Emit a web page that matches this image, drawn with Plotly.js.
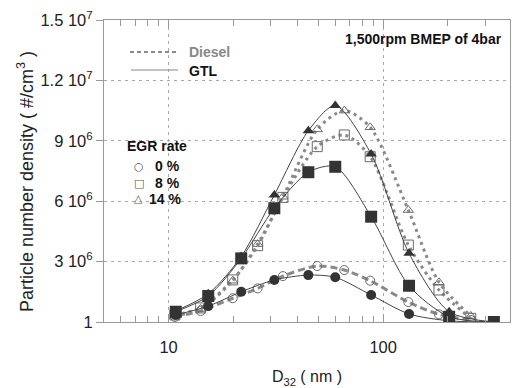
<!DOCTYPE html>
<html>
<head>
<meta charset="utf-8">
<script src="https://cdn.plot.ly/plotly-3.0.1.min.js"></script>
<style>html,body{margin:0;padding:0;background:#fff;}#chart{width:512px;height:388px;}</style>
</head>
<body>
<div id="chart"></div>
<script>
// Diameters (nm)
const dieselD = [10.7, 14.1, 19.9, 26.0, 34.1, 49.3, 65.9, 87.0, 131, 182, 256];
const gtlD    = [10.8, 15.3, 21.8, 31.1, 44.8, 59.8, 87.9, 132, 203, 328];

// Particle number density (#/cm3)
const diesel0  = [2.5e5, 5.5e5, 1.18e6, 1.67e6, 2.28e6, 2.78e6, 2.58e6, 2.05e6, 9.9e5, 3.8e5, 1.0e5];
const diesel8  = [3.5e5, 7.0e5, 2.09e6, 3.79e6, 6.19e6, 8.71e6, 9.29e6, 8.21e6, 3.82e6, 1.59e6, 1.8e5];
const diesel14 = [3.0e5, 6.5e5, 2.05e6, 3.87e6, 6.22e6, 9.57e6, 1.05e7, 9.67e6, 5.56e6, 1.97e6, 3.0e5];

const gtl0  = [3.5e5, 7.9e5, 1.50e6, 2.09e6, 2.33e6, 2.22e6, 1.34e6, 4.0e5, 6.0e4, 0];
const gtl8  = [5.1e5, 1.29e6, 3.16e6, 5.65e6, 7.44e6, 7.71e6, 5.23e6, 1.80e6, 2.6e5, 0];
const gtl14 = [5.5e5, 1.40e6, 3.25e6, 6.31e6, 9.50e6, 1.075e7, 8.34e6, 3.41e6, 5.1e5, 0];

const yTickVals = [0, 3e6, 6e6, 9e6, 1.2e7, 1.5e7];
const yTickText = ['1', '3 10<sup>6</sup>', '6 10<sup>6</sup>', '9 10<sup>6</sup>', '1.2 10<sup>7</sup>', '1.5 10<sup>7</sup>'];
const xTickVals = [10, 100];
const xTickText = ['10', '100'];
const xMinorVals = [6, 7, 8, 9, 20, 30, 40, 50, 60, 70, 80, 90, 200, 300];

const FONT = 'Liberation Sans, Arial, sans-serif';
const dCol = '#8a8a8a', dMk = '#6a6a6a', gCol = '#444', gMk = '#333';

function dieselTrace(y, sym, dash) {
  return {x: dieselD, y: y, type: 'scatter', mode: 'lines+markers', showlegend: false,
    line: {color: dCol, width: 3, dash: dash, shape: 'spline', smoothing: 0.8},
    marker: {symbol: sym, size: sym === 'square-open' ? 10 : 9, color: dMk, line: {width: 1, color: dMk}}};
}
function gtlTrace(y, sym, size) {
  return {x: gtlD, y: y, type: 'scatter', mode: 'lines+markers', showlegend: false,
    line: {color: gCol, width: 1, shape: 'spline', smoothing: 0.8},
    marker: {symbol: sym, size: size, color: gMk}};
}

const data = [
  dieselTrace(diesel0, 'circle-open', '7px,4px'),
  dieselTrace(diesel8, 'square-open', '3px,4px'),
  dieselTrace(diesel14, 'triangle-up-open', '3px,4px'),
  gtlTrace(gtl0, 'circle', 10),
  gtlTrace(gtl8, 'square', 12),
  gtlTrace(gtl14, 'triangle-up', 10)
];

const L = 104, R = 510, T = 20, B = 322;
const px = x => (x - L) / (R - L);
const py = y => (B - y) / (B - T);

function ann(text, x, y, opts) {
  return Object.assign({text: text, xref: 'paper', yref: 'paper', x: px(x), y: py(y),
    xanchor: 'left', yanchor: 'middle', showarrow: false,
    font: {family: FONT, size: 14, color: '#111', weight: 'bold'}}, opts || {});
}

const layout = {
  width: 512, height: 388,
  margin: {l: L, r: 512 - R, t: T, b: 388 - B},
  paper_bgcolor: '#fff', plot_bgcolor: '#fff',
  font: {family: FONT, color: '#222'},
  xaxis: {
    type: 'log', range: [Math.log10(5), Math.log10(390)],
    tickmode: 'array', tickvals: xTickVals, ticktext: xTickText,
    ticks: 'inside', ticklen: 8, tickcolor: '#999', ticklabelstandoff: 10,
    showgrid: true, gridcolor: '#aaa', griddash: '3px,4px', gridwidth: 1,
    showline: true, linecolor: '#999', linewidth: 1, mirror: 'allticks', zeroline: false,
    tickfont: {size: 16.5, color: '#222'},
    minor: {tickmode: 'array', tickvals: xMinorVals, ticks: 'inside', ticklen: 6, tickcolor: '#999', showgrid: false},
    title: {text: 'D<sub>32</sub> ( nm )', font: {size: 16, color: '#222'}, standoff: 16}
  },
  yaxis: {
    range: [0, 1.5e7], tickmode: 'array', tickvals: yTickVals, ticktext: yTickText,
    ticks: 'outside', ticklen: 7, tickcolor: '#999',
    showgrid: true, gridcolor: '#aaa', griddash: '3px,4px', gridwidth: 1,
    showline: true, linecolor: '#999', linewidth: 1, mirror: true, zeroline: false,
    tickfont: {size: 16.5, color: '#222'}
  },
  shapes: [
    {type: 'line', xref: 'paper', yref: 'paper', x0: px(130), x1: px(178), y0: py(52), y1: py(52),
      line: {color: dCol, width: 2, dash: '4px,3px'}},
    {type: 'line', xref: 'paper', yref: 'paper', x0: px(131), x1: px(178), y0: py(70), y1: py(70),
      line: {color: '#888', width: 1}}
  ],
  annotations: [
    ann('Particle number density ( #/cm<sup>3</sup> )', 25, 182,
      {xanchor: 'center', textangle: -90, font: {family: FONT, size: 18, color: '#222'}}),
    ann('1,500rpm BMEP of 4bar', 504, 39, {xanchor: 'right'}),
    ann('Diesel', 187, 52, {font: {family: FONT, size: 14, color: '#888', weight: 'bold'}}),
    ann('GTL', 187, 71),
    ann('EGR rate', 125, 146),
    ann('○', 132, 166, {font: {family: 'DejaVu Sans', size: 11, color: '#555'}}),
    ann('□', 132, 183, {font: {family: 'DejaVu Sans', size: 11, color: '#555'}}),
    ann('△', 132, 198, {font: {family: 'DejaVu Sans', size: 11, color: '#555'}}),
    ann('0 %', 153, 166),
    ann('8 %', 153, 183),
    ann('14 %', 147, 199)
  ]
};

Plotly.newPlot('chart', data, layout, {displayModeBar: false, staticPlot: true});
</script>
</body>
</html>
